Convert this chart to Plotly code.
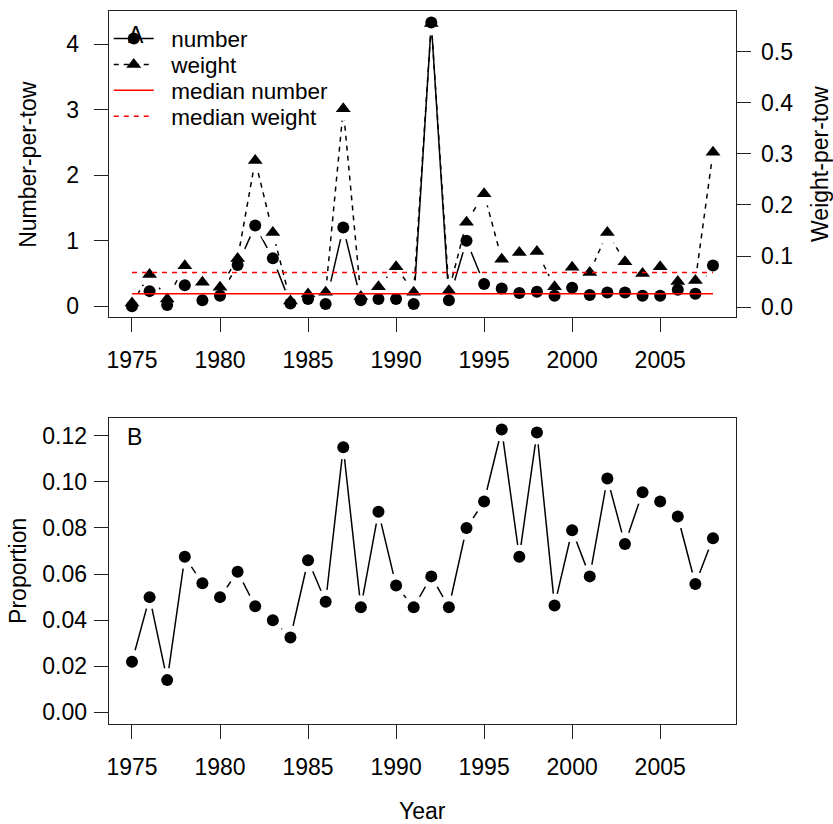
import plotly.graph_objects as go

# data
years = list(range(1975, 2009))
number_per_tow = [0.0, 0.23, 0.02, 0.32, 0.09, 0.16, 0.63, 1.23, 0.73, 0.04,
                  0.11, 0.035, 1.2, 0.09, 0.11, 0.11, 0.035, 4.33, 0.09, 1.0,
                  0.34, 0.27, 0.20, 0.22, 0.16, 0.28, 0.17, 0.21, 0.21, 0.16,
                  0.16, 0.25, 0.19, 0.62]
weight_per_tow = [0.008, 0.064, 0.016, 0.081, 0.049, 0.039, 0.095, 0.287, 0.146, 0.012,
                  0.026, 0.029, 0.388, 0.021, 0.040, 0.079, 0.029, 0.555, 0.032, 0.166,
                  0.222, 0.094, 0.107, 0.109, 0.040, 0.078, 0.068, 0.146, 0.089, 0.066,
                  0.079, 0.050, 0.052, 0.303]
proportion = [0.022, 0.050, 0.014, 0.0675, 0.056, 0.050, 0.061, 0.046, 0.040, 0.0325,
              0.066, 0.048, 0.115, 0.0456, 0.087, 0.055, 0.0456, 0.059, 0.0456, 0.080,
              0.0915, 0.1227, 0.0675, 0.1214, 0.0464, 0.079, 0.059, 0.1015, 0.073, 0.0955,
              0.0915, 0.085, 0.0557, 0.0755]
median_number = 0.19
median_weight = 0.068
year_ticks = [1975, 1980, 1985, 1990, 1995, 2000, 2005]

W, H = 833, 824
FONT = "Liberation Sans, Arial, sans-serif"
FS = 23
PAD = "\u00a0\u00a0"  # push legend text right like the R legend


def px(x):
    return x / W


def py(y):
    return 1 - y / H


fig = go.Figure()

# --- panel A ---------------------------------------------------------------
fig.add_trace(go.Scatter(x=years, y=number_per_tow, name=PAD + "number", mode="lines+markers",
                         line=dict(color="black", width=1.5),
                         marker=dict(symbol="circle", size=12, color="black"),
                         xaxis="x", yaxis="y", legend="legend"))
# white halos give the R type="b" gaps
fig.add_trace(go.Scatter(x=years, y=number_per_tow, mode="markers", showlegend=False,
                         marker=dict(symbol="circle", size=24, color="white"),
                         hoverinfo="skip", xaxis="x", yaxis="y"))

fig.add_trace(go.Scatter(x=years, y=weight_per_tow, name=PAD + "weight", mode="lines+markers",
                         line=dict(color="black", width=1.5, dash="5px,5px"),
                         marker=dict(symbol="triangle-up", size=13, color="black"),
                         xaxis="x", yaxis="y2", legend="legend2"))
fig.add_trace(go.Scatter(x=years, y=weight_per_tow, mode="markers", showlegend=False,
                         marker=dict(symbol="circle", size=24, color="white"),
                         hoverinfo="skip", xaxis="x", yaxis="y2"))
fig.add_trace(go.Scatter(x=years, y=weight_per_tow, mode="markers", showlegend=False,
                         marker=dict(symbol="triangle-up", size=13, color="black"),
                         xaxis="x", yaxis="y2"))

fig.add_trace(go.Scatter(x=years, y=number_per_tow, mode="markers", showlegend=False,
                         marker=dict(symbol="circle", size=12, color="black"),
                         xaxis="x", yaxis="y3"))
fig.add_trace(go.Scatter(x=[years[0], years[-1]], y=[median_number, median_number],
                         name=PAD + "median number", mode="lines",
                         line=dict(color="red", width=1.5),
                         xaxis="x", yaxis="y3", legend="legend3"))
fig.add_trace(go.Scatter(x=[years[0], years[-1]], y=[median_weight, median_weight],
                         name=PAD + "median weight", mode="lines",
                         line=dict(color="red", width=1.5, dash="5px,5px"),
                         xaxis="x", yaxis="y4", legend="legend4"))

# --- panel B ---------------------------------------------------------------
fig.add_trace(go.Scatter(x=years, y=proportion, mode="lines", showlegend=False,
                         line=dict(color="black", width=1.5), xaxis="x2", yaxis="y5"))
fig.add_trace(go.Scatter(x=years, y=proportion, mode="markers", showlegend=False,
                         marker=dict(symbol="circle", size=24, color="white"),
                         hoverinfo="skip", xaxis="x2", yaxis="y5"))
fig.add_trace(go.Scatter(x=years, y=proportion, mode="markers", showlegend=False,
                         marker=dict(symbol="circle", size=12, color="black"),
                         xaxis="x2", yaxis="y5"))

axis_common = dict(showgrid=False, zeroline=False, showline=True, linecolor="#222",
                   linewidth=1.3, ticks="outside", ticklen=14, tickwidth=1.3,
                   tickcolor="#222", tickfont=dict(family=FONT, size=FS, color="black"))

x_dom = [px(107), px(736)]
top_dom = [py(318.3), py(11)]
bot_dom = [py(726.5), py(420)]
num_range = [-0.167, 4.506]
wt_range = [-0.0195, 0.5795]


def legend_row(y):
    return dict(x=px(107), y=py(y), xanchor="left", yanchor="middle",
                bgcolor="rgba(0,0,0,0)", borderwidth=0, itemwidth=40,
                font=dict(family=FONT, size=22.5, color="black"))


fig.update_layout(
    width=W, height=H,
    margin=dict(l=0, r=0, t=0, b=0),
    paper_bgcolor="white", plot_bgcolor="white",
    font=dict(family=FONT, size=FS, color="black"),
    xaxis=dict(axis_common, domain=x_dom, anchor="y", range=[1973.68, 2009.32],
               tickvals=year_ticks, mirror=True, ticklabelstandoff=8),
    yaxis=dict(axis_common, domain=top_dom, anchor="x", range=num_range,
               tickvals=[0, 1, 2, 3, 4], mirror=True, ticklabelstandoff=10),
    yaxis2=dict(axis_common, overlaying="y", side="right", anchor="x", range=wt_range,
                tickvals=[0, 0.1, 0.2, 0.3, 0.4, 0.5], tickformat=".1f",
                ticklabelstandoff=5),
    yaxis3=dict(overlaying="y", anchor="x", range=num_range, visible=False),
    yaxis4=dict(overlaying="y", anchor="x", range=wt_range, visible=False),
    xaxis2=dict(axis_common, domain=x_dom, anchor="y5", range=[1973.68, 2009.32],
                tickvals=year_ticks, mirror=True, ticklabelstandoff=8),
    yaxis5=dict(axis_common, domain=bot_dom, anchor="x2", range=[-0.00497, 0.1275],
                tickvals=[0, 0.02, 0.04, 0.06, 0.08, 0.10, 0.12], tickformat=".2f",
                mirror=True, ticklabelstandoff=2),
    legend=legend_row(39),
    legend2=legend_row(65),
    legend3=legend_row(91),
    legend4=legend_row(117),
    showlegend=True,
)

annotations = [
    dict(text="Number-per-tow", x=px(26), y=py(164.5), textangle=-90),
    dict(text="Weight-per-tow", x=px(820), y=py(164.5), textangle=-90),
    dict(text="Proportion", x=px(16), y=py(573), textangle=-90),
    dict(text="Year", x=px(421.5), y=py(814)),
    dict(text="A", x=px(134), y=py(35)),
    dict(text="B", x=px(133), y=py(439)),
]
for a in annotations:
    fig.add_annotation(xref="paper", yref="paper", showarrow=False,
                       xanchor="center", yanchor="middle",
                       font=dict(family=FONT, size=FS, color="black"), **a)

fig.write_html("out.html", config={"displayModeBar": False},
               post_script="document.body.style.margin='0px';")
